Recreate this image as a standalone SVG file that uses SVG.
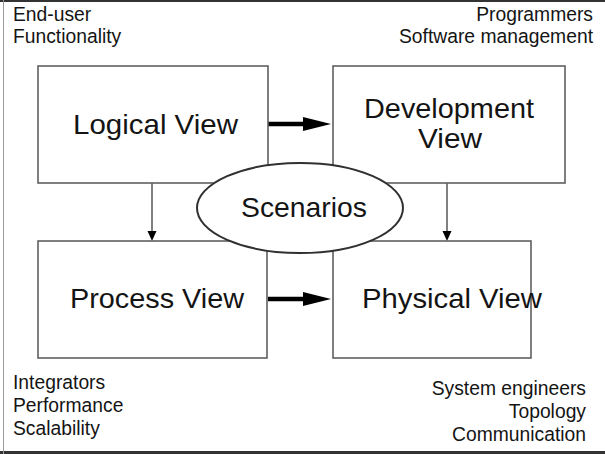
<svg xmlns="http://www.w3.org/2000/svg" width="605" height="454" viewBox="0 0 605 454">
<style>
.box{fill:#fff;stroke:#606060;stroke-width:1.6}
.lbl{font-family:"Liberation Sans",Arial,sans-serif;font-size:28px;fill:#141414;text-anchor:middle}
.note{font-family:"Liberation Sans",Arial,sans-serif;font-size:19.3px;fill:#141414}
.r{text-anchor:end}
.thick{stroke:#000;stroke-width:4.5;fill:none}
.thin{stroke:#808080;stroke-width:2;fill:none}
</style>
<rect width="605" height="454" fill="#fff"/>
<g id="frame">
<line x1="0" y1="1" x2="605" y2="1" stroke="#333" stroke-width="2"/>
<line x1="0" y1="452.5" x2="605" y2="452.5" stroke="#333" stroke-width="3"/>
<line x1="3.5" y1="0" x2="3.5" y2="454" stroke="#999" stroke-width="1"/>
</g>
<g id="notes">
<text class="note" x="13" y="21">End-user</text>
<text class="note" x="13" y="43">Functionality</text>
<text class="note r" x="593" y="21">Programmers</text>
<text class="note r" x="593" y="43">Software management</text>
<text class="note" x="13" y="389">Integrators</text>
<text class="note" x="13" y="412">Performance</text>
<text class="note" x="13" y="435">Scalability</text>
<text class="note r" x="586" y="395">System engineers</text>
<text class="note r" x="586" y="418">Topology</text>
<text class="note r" x="586" y="441">Communication</text>
</g>
<g id="connectors">
<line class="thick" x1="268" y1="124" x2="305" y2="124"/>
<polygon points="303,117 331,124 303,131" fill="#000"/>
<line class="thick" x1="268" y1="299" x2="305" y2="299"/>
<polygon points="303,292 331,299 303,306" fill="#000"/>
<line class="thin" x1="152" y1="183" x2="152" y2="233"/>
<polygon points="147.5,231 156.5,231 152,241" fill="#000"/>
<line class="thin" x1="447" y1="183" x2="447" y2="233"/>
<polygon points="442.5,231 451.5,231 447,241" fill="#000"/>
</g>
<g id="logical">
<rect class="box" x="38" y="66" width="230" height="117"/>
<text class="lbl" x="155.5" y="134" textLength="165" lengthAdjust="spacingAndGlyphs">Logical View</text>
</g>
<g id="development">
<rect class="box" x="333" y="66" width="232" height="117"/>
<text class="lbl" x="449" y="118" textLength="170" lengthAdjust="spacingAndGlyphs">Development</text>
<text class="lbl" x="450" y="148" textLength="64" lengthAdjust="spacingAndGlyphs">View</text>
</g>
<g id="process">
<rect class="box" x="38" y="241" width="229" height="117"/>
<text class="lbl" x="157" y="308" textLength="174" lengthAdjust="spacingAndGlyphs">Process View</text>
</g>
<g id="physical">
<rect class="box" x="333" y="241" width="198" height="117"/>
<text class="lbl" x="452" y="308" textLength="180" lengthAdjust="spacingAndGlyphs">Physical View</text>
</g>
<g id="scenarios">
<ellipse cx="300" cy="208" rx="103" ry="45" fill="#fff" stroke="#303030" stroke-width="2"/>
<text class="lbl" x="304" y="217" textLength="126" lengthAdjust="spacingAndGlyphs">Scenarios</text>
</g>
</svg>
